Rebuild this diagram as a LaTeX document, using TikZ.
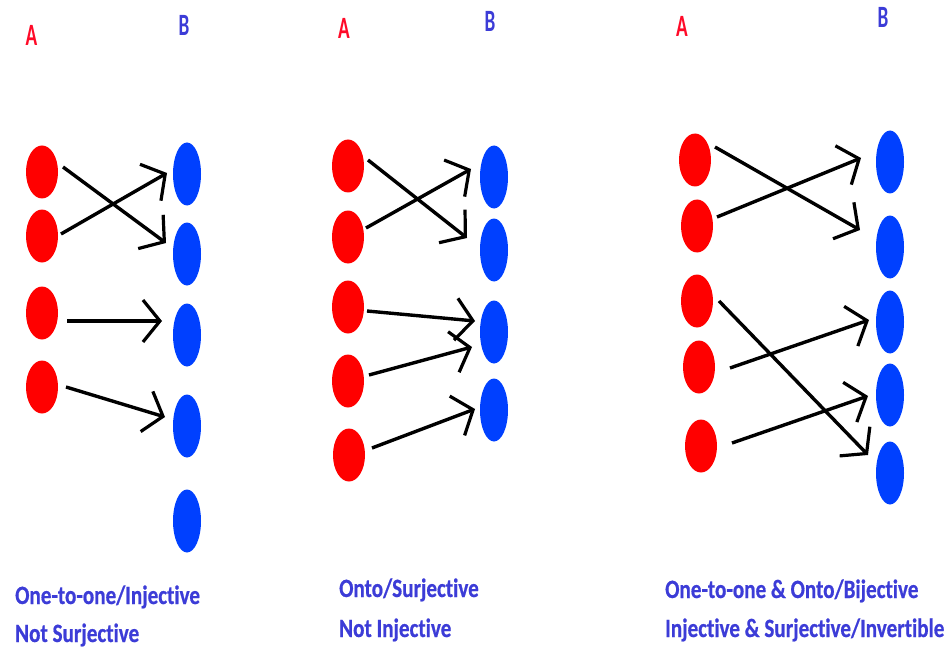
\documentclass[tikz,border=0pt]{standalone}
\usepackage{fontspec}
\usetikzlibrary{shapes.geometric,arrows.meta,calc}
\newfontfamily\labfont[FakeStretch=0.8,FakeBold=0.6,RawFeature={-liga;-clig;-dlig}]{Carlito}
\newfontfamily\setfont[FakeStretch=0.62,RawFeature={-liga}]{Carlito}
\definecolor{redA}{RGB}{255,0,0}
\definecolor{blueB}{RGB}{0,64,255}
\definecolor{txtblue}{RGB}{60,60,215}
\definecolor{letA}{RGB}{255,10,40}
\tikzset{
  rdot/.style={ellipse,fill=redA,draw=none,minimum width=32pt,minimum height=53pt,inner sep=0pt},
  bdot/.style={ellipse,fill=blueB,draw=none,minimum width=28pt,minimum height=63pt,inner sep=0pt},
  map/.style={line width=3.4pt,-{Straight Barb[length=17pt,width=42pt,line width=3.2pt]}},
  caption/.style={anchor=base west,inner sep=0pt,text=txtblue,font=\labfont\bfseries\fontsize{26.4}{30}\selectfont},
  setA/.style={anchor=base,inner sep=0pt,text=letA,font=\setfont\bfseries\fontsize{31}{34}\selectfont},
  setB/.style={anchor=base,inner sep=0pt,text=txtblue,font=\setfont\bfseries\fontsize{31}{34}\selectfont}
}
\begin{document}
\begin{tikzpicture}[x=1pt,y=-1pt]
\useasboundingbox (0,0) rectangle (951,650);
% ---------- panel 1 ----------
\node[setA] (a1) at (31.5,46) {A};
\node[setB] (b1l) at (184,36) {B};
\node[rdot] (p1r1) at (42,172) {};
\node[rdot] (p1r2) at (42,236) {};
\node[rdot] (p1r3) at (42,313) {};
\node[rdot] (p1r4) at (42,387) {};
\node[bdot] (p1b1) at (187,174) {};
\node[bdot] (p1b2) at (187,254) {};
\node[bdot] (p1b3) at (187,335) {};
\node[bdot] (p1b4) at (187,426) {};
\node[bdot] (p1b5) at (187,521) {};
\draw[map] ($(p1r1)+(21,-5)$) -- ($(p1b2)+(-21,-11)$);
\draw[map] ($(p1r2)+(19,-2)$) -- ($(p1b1)+(-20,-1)$);
\draw[map] ($(p1r3)+(25,8)$) -- ($(p1b3)+(-25,-14)$);
\draw[map] ($(p1r4)+(24,0)$) -- ($(p1b4)+(-22,-9)$);
\node[caption] (c1a) at (15,604) {One-to-one/Injective};
\node[caption] (c1b) at (15,642) {Not Surjective};
% ---------- panel 2 ----------
\node[setA] (a2) at (344,39) {A};
\node[setB] (b2l) at (490,32) {B};
\node[rdot] (p2r1) at (348,166) {};
\node[rdot] (p2r2) at (348,237) {};
\node[rdot] (p2r3) at (348,307) {};
\node[rdot] (p2r4) at (348,381) {};
\node[rdot] (p2r5) at (349,455) {};
\node[bdot] (p2b1) at (494,177) {};
\node[bdot] (p2b2) at (494,250) {};
\node[bdot] (p2b3) at (494,332) {};
\node[bdot] (p2b4) at (494,410) {};
\draw[map] ($(p2r1)+(20,-6)$) -- ($(p2b2)+(-27,-12)$);
\draw[map] ($(p2r2)+(18,-9)$) -- ($(p2b1)+(-23,-8)$);
\draw[map] ($(p2r3)+(19,4)$) -- ($(p2b3)+(-19,-11)$);
\draw[map] ($(p2r4)+(21,-6)$) -- ($(p2b3)+(-22,15)$);
\draw[map] ($(p2r5)+(23,-7)$) -- ($(p2b4)+(-19,-1)$);
\node[caption] (c2a) at (339,597) {Onto/Surjective};
\node[caption] (c2b) at (339,637) {Not Injective};
% ---------- panel 3 ----------
\node[setA] (a3) at (682,37) {A};
\node[setB] (b3l) at (883,28) {B};
\node[rdot] (p3r1) at (695,160) {};
\node[rdot] (p3r2) at (697,226) {};
\node[rdot] (p3r3) at (697,301) {};
\node[rdot] (p3r4) at (699,367) {};
\node[rdot] (p3r5) at (701,446) {};
\node[bdot] (p3b1) at (890,162) {};
\node[bdot] (p3b2) at (890,247) {};
\node[bdot] (p3b3) at (890,322) {};
\node[bdot] (p3b4) at (890,395) {};
\node[bdot] (p3b5) at (890,473) {};
\draw[map] ($(p3r1)+(20,-13)$) -- ($(p3b2)+(-30,-17)$);
\draw[map] ($(p3r2)+(20,-9)$) -- ($(p3b1)+(-29,-4)$);
\draw[map] ($(p3r3)+(22,0)$) -- ($(p3b5)+(-22,-18)$);
\draw[map] ($(p3r4)+(31,1)$) -- ($(p3b3)+(-21,-2)$);
\draw[map] ($(p3r5)+(31,-3)$) -- ($(p3b4)+(-22,1)$);
\node[caption] (c3a) at (665,598) {One-to-one \& Onto/Bijective};
\node[caption] (c3b) at (665,637) {Injective \& Surjective/Invertible};
\end{tikzpicture}
\end{document}
